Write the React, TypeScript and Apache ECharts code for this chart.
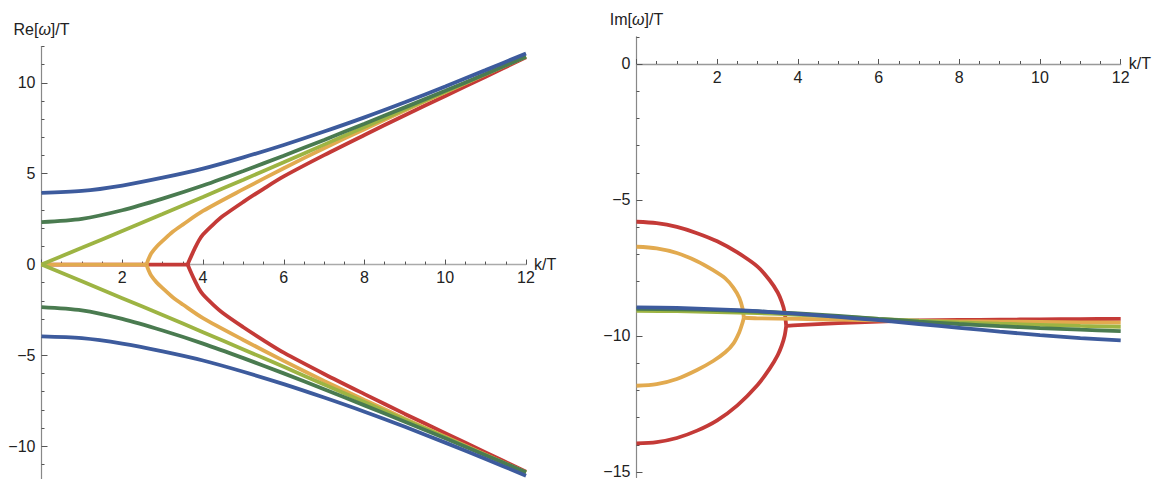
import React, { useEffect, useRef } from "react";
import * as echarts from "echarts";

// ---------- Left panel: Re[omega]/T vs k/T ----------
const kFull = [0, 1, 2, 3, 4, 5, 6, 7, 8, 9, 10, 11, 12];
const reBlue = [3.95, 4.05, 4.35, 4.78, 5.28, 5.9, 6.58, 7.32, 8.1, 8.93, 9.8, 10.7, 11.62];
const reDarkGreen = [2.34, 2.52, 2.99, 3.63, 4.35, 5.15, 5.99, 6.86, 7.75, 8.65, 9.56, 10.49, 11.43];
const reLightGreen = [0, 0.92, 1.85, 2.78, 3.72, 4.67, 5.63, 6.6, 7.57, 8.54, 9.51, 10.48, 11.45];

const kOrangeZero = [0, 2.6];
const reOrangeZero = [0, 0];
const kOrangeBranch = [2.6, 2.65, 2.72, 2.85, 3.0, 3.25, 3.5, 4, 5, 6, 7, 8, 9, 10, 11, 12];
const reOrangeBranch = [0, 0.3, 0.62, 0.98, 1.3, 1.8, 2.2, 2.95, 4.15, 5.3, 6.4, 7.45, 8.48, 9.48, 10.47, 11.45];

const kRedZero = [0, 3.62];
const reRedZero = [0, 0];
const kRedBranch = [3.62, 3.66, 3.72, 3.8, 3.9, 4.0, 4.25, 4.5, 5, 5.5, 6, 7, 8, 9, 10, 11, 12];
const reRedBranch = [0, 0.22, 0.52, 0.9, 1.33, 1.65, 2.2, 2.68, 3.45, 4.17, 4.85, 6.02, 7.13, 8.22, 9.28, 10.34, 11.4];

// ---------- Right panel: Im[omega]/T vs k/T ----------
const imBlue = [-8.95, -8.97, -9.02, -9.09, -9.19, -9.3, -9.42, -9.56, -9.7, -9.84, -9.97, -10.08, -10.16];
const imDarkGreen = [-9.0, -9.02, -9.05, -9.1, -9.17, -9.26, -9.37, -9.47, -9.56, -9.64, -9.71, -9.77, -9.82];
const imLightGreen = [-9.08, -9.09, -9.12, -9.16, -9.22, -9.29, -9.37, -9.44, -9.5, -9.55, -9.59, -9.63, -9.66];

const kOrangeArc = [0, 0.5, 1.0, 1.5, 1.9, 2.2, 2.4, 2.55, 2.63, 2.66];
const imOrangeUpper = [-6.72, -6.78, -6.95, -7.25, -7.58, -7.88, -8.22, -8.6, -9.0, -9.33];
const imOrangeLower = [-11.83, -11.77, -11.58, -11.25, -10.92, -10.6, -10.28, -9.85, -9.5, -9.33];
const kOrangeTail = [2.66, 3, 4, 5, 6, 7, 8, 9, 10, 11, 12];
const imOrangeTail = [-9.33, -9.35, -9.37, -9.4, -9.43, -9.45, -9.46, -9.47, -9.48, -9.5, -9.51];

const kRedArc = [0, 0.5, 1.0, 1.5, 2.0, 2.5, 3.0, 3.3, 3.5, 3.6, 3.67, 3.71];
const imRedUpper = [-5.8, -5.85, -5.99, -6.22, -6.52, -6.93, -7.45, -7.95, -8.4, -8.75, -9.12, -9.63];
const imRedLower = [-13.95, -13.9, -13.75, -13.48, -13.1, -12.55, -11.8, -11.2, -10.7, -10.35, -10.0, -9.63];
const kRedTail = [3.71, 4, 5, 6, 7, 8, 9, 10, 11, 12];
const imRedTail = [-9.63, -9.6, -9.53, -9.47, -9.43, -9.41, -9.4, -9.39, -9.38, -9.37];

// ---------- Ticks ----------
const reMajorTicks = [-10, -5, 0, 5, 10];
const reMinorTicks = [-12, -11, -9, -8, -7, -6, -4, -3, -2, -1, 1, 2, 3, 4, 6, 7, 8, 9, 11, 12];
const imMajorTicks = [-15, -10, -5, 0];
const imMinorTicks = [-14, -13, -12, -11, -9, -8, -7, -6, -4, -3, -2, -1, 1];

const BLUE = "#3d5b9d";
const DKGREEN = "#4a7b50";
const LTGREEN = "#9db443";
const ORANGE = "#e2aa4f";
const RED = "#c43a37";

const FONT = "'Liberation Sans', Arial, sans-serif";
const TXT = "#222";

const pairs = (xs: number[], ys: number[]) => xs.map((x, i) => [x, ys[i]]);
const neg = (ys: number[]) => ys.map((v) => -v);
const fmt = (v: number) => (v < 0 ? "\u2212" + Math.abs(v) : String(v));

export default function App() {
  const ref = useRef<HTMLDivElement>(null);
  useEffect(() => {
    if (!ref.current) return;
    const chart = echarts.init(ref.current, undefined, { renderer: "svg" });

    const line = (data: number[][], color: string, xi: number, yi: number, smooth: number | boolean = 0.3) => ({
      type: "line",
      data,
      xAxisIndex: xi,
      yAxisIndex: yi,
      showSymbol: false,
      symbol: "none",
      smooth,
      lineStyle: { color, width: 3.8 },
      itemStyle: { color },
      silent: true,
    });

    const xAxisBase = (grid: number, lineColor: string) => ({
      type: "value",
      gridIndex: grid,
      min: 0,
      max: 12,
      interval: 2,
      axisLine: { show: true, onZero: true, lineStyle: { color: lineColor, width: 1.3 } },
      axisTick: { show: true, inside: true, length: 5, lineStyle: { color: "#555" } },
      minorTick: { show: true, splitNumber: 4, length: 3, lineStyle: { color: "#555" } },
      splitLine: { show: false },
      minorSplitLine: { show: false },
      axisLabel: { show: false },
      name: "k/T",
      nameLocation: "end",
      nameGap: 8,
      nameTextStyle: { fontSize: 16, color: TXT, fontFamily: FONT },
    });

    // helper axis that only carries the k/T tick labels just below the zero line
    const xAxisLabels = (grid: number) => ({
      type: "value",
      gridIndex: grid,
      position: "bottom",
      min: 0,
      max: 12,
      interval: 2,
      axisLine: { show: false, onZero: false },
      axisTick: { show: false },
      splitLine: { show: false },
      axisLabel: {
        formatter: (v: number) => (v === 0 ? "" : fmt(v)),
        fontSize: 16,
        color: TXT,
        fontFamily: FONT,
        margin: 5,
      },
    });

    const yAxisHidden = (grid: number) => ({
      type: "value",
      gridIndex: grid,
      min: 0,
      max: 1,
      show: false,
      axisLine: { show: false, onZero: false },
      splitLine: { show: false },
    });

    const yAxisMajor = (grid: number, min: number, max: number, ticks: number[], name: string) => ({
      type: "value",
      gridIndex: grid,
      position: "left",
      min,
      max,
      axisLine: { show: true, onZero: true, lineStyle: { color: "#888", width: 1.2 } },
      axisTick: { show: true, inside: true, length: 6, customValues: ticks, lineStyle: { color: "#555" } },
      axisLabel: {
        customValues: ticks,
        formatter: (v: number) => fmt(v),
        fontSize: 16,
        color: TXT,
        fontFamily: FONT,
        margin: 6,
      },
      splitLine: { show: false },
      name,
      nameLocation: "end",
      nameGap: 9,
      nameTextStyle: {
        fontSize: 16,
        color: TXT,
        fontFamily: FONT,
        rich: { w: { fontSize: 16, fontStyle: "italic", color: TXT, fontFamily: FONT } },
      },
    });

    const yAxisMinor = (grid: number, min: number, max: number, ticks: number[]) => ({
      type: "value",
      gridIndex: grid,
      position: "left",
      min,
      max,
      axisLine: { show: false, onZero: true },
      axisTick: { show: true, inside: true, length: 3, customValues: ticks, lineStyle: { color: "#555" } },
      axisLabel: { show: false },
      splitLine: { show: false },
    });

    const series = [
      // left panel (Re)
      line(pairs(kRedZero, reRedZero), RED, 0, 0, false),
      line(pairs(kRedBranch, reRedBranch), RED, 0, 0),
      line(pairs(kRedBranch, neg(reRedBranch)), RED, 0, 0),
      line(pairs(kOrangeZero, reOrangeZero), ORANGE, 0, 0, false),
      line(pairs(kOrangeBranch, reOrangeBranch), ORANGE, 0, 0),
      line(pairs(kOrangeBranch, neg(reOrangeBranch)), ORANGE, 0, 0),
      line(pairs(kFull, reLightGreen), LTGREEN, 0, 0),
      line(pairs(kFull, neg(reLightGreen)), LTGREEN, 0, 0),
      line(pairs(kFull, reDarkGreen), DKGREEN, 0, 0),
      line(pairs(kFull, neg(reDarkGreen)), DKGREEN, 0, 0),
      line(pairs(kFull, reBlue), BLUE, 0, 0),
      line(pairs(kFull, neg(reBlue)), BLUE, 0, 0),
      // right panel (Im)
      line(pairs(kRedArc, imRedUpper), RED, 1, 2),
      line(pairs(kRedArc, imRedLower), RED, 1, 2),
      line(pairs(kRedTail, imRedTail), RED, 1, 2),
      line(pairs(kOrangeArc, imOrangeUpper), ORANGE, 1, 2),
      line(pairs(kOrangeArc, imOrangeLower), ORANGE, 1, 2),
      line(pairs(kOrangeTail, imOrangeTail), ORANGE, 1, 2),
      line(pairs(kFull, imLightGreen), LTGREEN, 1, 2),
      line(pairs(kFull, imDarkGreen), DKGREEN, 1, 2),
      line(pairs(kFull, imBlue), BLUE, 1, 2),
    ];

    const g = { containLabel: false, outerBoundsMode: "none" };

    chart.setOption({
      animation: false,
      backgroundColor: "#ffffff",
      textStyle: { fontFamily: FONT },
      grid: [
        { ...g, left: 41.5, top: 46.5, width: 484.5, height: 436.1 },
        { ...g, left: 636.5, top: 36.8, width: 484.2, height: 440.6 },
        { ...g, left: 41.5, top: 46.5, width: 484.5, height: 218 },
        { ...g, left: 636.5, top: 36.8, width: 484.2, height: 27.2 },
      ],
      xAxis: [xAxisBase(0, "#aaa"), xAxisBase(1, "#999"), xAxisLabels(2), xAxisLabels(3)],
      yAxis: [
        yAxisMajor(0, -12, 12, reMajorTicks, "Re[{w|\u03c9}]/T"),
        yAxisMinor(0, -12, 12, reMinorTicks),
        yAxisMajor(1, -15.2, 1, imMajorTicks, "Im[{w|\u03c9}]/T"),
        yAxisMinor(1, -15.2, 1, imMinorTicks),
        yAxisHidden(2),
        yAxisHidden(3),
      ],
      series,
    });

    return () => chart.dispose();
  }, []);

  return (
    <div
      ref={ref}
      style={{ position: "fixed", left: 0, top: 0, width: 1153, height: 479, background: "#fff" }}
    />
  );
}
